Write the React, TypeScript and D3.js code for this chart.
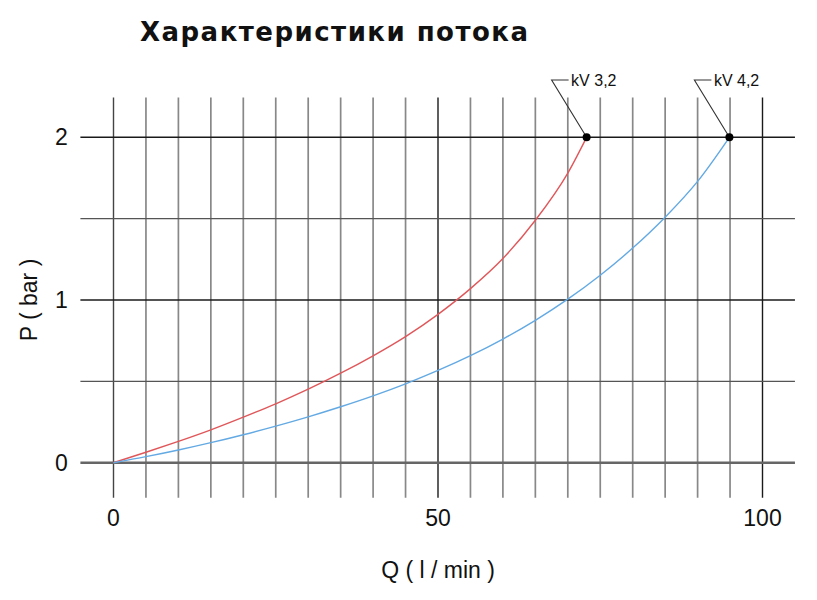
import * as d3 from "d3";

// chart dimensions (reference is 817x600)
const WIDTH = 817;
const HEIGHT = 600;

const TITLE = "Характеристики потока";
const X_LABEL = "Q ( l / min )";
const Y_LABEL = "P ( bar )";

const X_TICKS = [0, 50, 100];
const Y_TICKS = [0, 1, 2];

// kV 3,2 curve
const RED_Q = [0, 5, 10, 15, 20, 25, 30, 35, 40, 45, 50, 55, 60, 65, 70, 72.9];
const RED_P = [0, 0.064, 0.131, 0.202, 0.28, 0.362, 0.452, 0.55, 0.657, 0.775, 0.912, 1.07, 1.255, 1.49, 1.78, 2.0];

// kV 4,2 curve
const BLUE_Q = [0, 5, 10, 15, 20, 25, 30, 35, 40, 45, 50, 55, 60, 65, 70, 75, 80, 85, 90, 94.9];
const BLUE_P = [0, 0.037, 0.078, 0.123, 0.172, 0.225, 0.282, 0.344, 0.411, 0.485, 0.567, 0.658, 0.76, 0.875, 1.005, 1.152, 1.319, 1.509, 1.729, 2.0];

const SERIES = [
  { name: "kV 3,2", q: RED_Q, p: RED_P, color: "#e0575a" },
  { name: "kV 4,2", q: BLUE_Q, p: BLUE_P, color: "#63a9e3" },
];

const FONT = "'Liberation Sans', Arial, sans-serif";

export default function App() {
  const xScale = d3.scaleLinear().domain([0, 100]).range([113.5, 762.5]);
  const yScale = d3.scaleLinear().domain([0, 2]).range([462.7, 137.3]);

  const vGrid = d3.range(0, 101, 5);
  const hGrid = d3.range(0, 2.01, 0.5);

  const line = d3
    .line<[number, number]>()
    .x((d) => xScale(d[0]))
    .y((d) => yScale(d[1]))
    .curve(d3.curveMonotoneX);

  return (
    <svg
      width={WIDTH}
      height={HEIGHT}
      style={{ position: "absolute", left: 0, top: 0, background: "#fff" }}
    >
      <text
        x={140}
        y={41}
        fontFamily="'DejaVu Sans', Verdana, sans-serif"
        fontWeight="bold"
        fontSize={26}
        textLength={388}
        lengthAdjust="spacing"
        fill="#111"
      >
        {TITLE}
      </text>

      {/* vertical grid */}
      {vGrid.map((v) => {
        const major = v % 50 === 0;
        return (
          <line
            key={"v" + v}
            x1={xScale(v)}
            x2={xScale(v)}
            y1={yScale(2.245)}
            y2={yScale(-0.215)}
            stroke={major ? (v === 0 ? "#444" : "#1a1a1a") : "#888"}
            strokeWidth={major ? 1.4 : 1.7}
          />
        );
      })}

      {/* horizontal grid */}
      {hGrid.map((v) => {
        const major = Number.isInteger(v);
        const zero = v === 0;
        return (
          <line
            key={"h" + v}
            x1={xScale(-5.1)}
            x2={xScale(105)}
            y1={yScale(v)}
            y2={yScale(v)}
            stroke={zero ? "#666" : major ? "#1a1a1a" : "#555"}
            strokeWidth={zero ? 2.4 : major ? 1.6 : 1.2}
          />
        );
      })}

      {/* curves */}
      {SERIES.map((s) => (
        <path
          key={s.name}
          d={line(s.q.map((q, i) => [q, s.p[i]] as [number, number])) || ""}
          fill="none"
          stroke={s.color}
          strokeWidth={1.4}
        />
      ))}

      {/* end points with leaders */}
      {SERIES.map((s) => {
        const n = s.q.length - 1;
        const px = xScale(s.q[n]);
        const py = yScale(s.p[n]);
        const kx = px - 35;
        const ky = 80;
        return (
          <g key={"lbl" + s.name}>
            <polyline
              points={`${px},${py} ${kx},${ky} ${kx + 17},${ky}`}
              fill="none"
              stroke="#333"
              strokeWidth={1.1}
            />
            <circle cx={px} cy={py} r={4} fill="#000" />
            <text x={kx + 19.5} y={ky + 6} fontFamily={FONT} fontSize={16} fill="#111">
              {s.name}
            </text>
          </g>
        );
      })}

      {/* tick labels */}
      {X_TICKS.map((t) => (
        <text
          key={"xt" + t}
          x={xScale(t)}
          y={526}
          textAnchor="middle"
          fontFamily={FONT}
          fontSize={23}
          fill="#111"
        >
          {t}
        </text>
      ))}
      {Y_TICKS.map((t) => (
        <text
          key={"yt" + t}
          x={61.5}
          y={yScale(t) + 8}
          textAnchor="middle"
          fontFamily={FONT}
          fontSize={23}
          fill="#111"
        >
          {t}
        </text>
      ))}

      <text
        x={xScale(50)}
        y={578}
        textAnchor="middle"
        fontFamily={FONT}
        fontSize={23}
        fill="#111"
      >
        {X_LABEL}
      </text>
      <text
        transform={`translate(37,300) rotate(-90)`}
        textAnchor="middle"
        fontFamily={FONT}
        fontSize={23}
        fill="#111"
      >
        {Y_LABEL}
      </text>
    </svg>
  );
}
